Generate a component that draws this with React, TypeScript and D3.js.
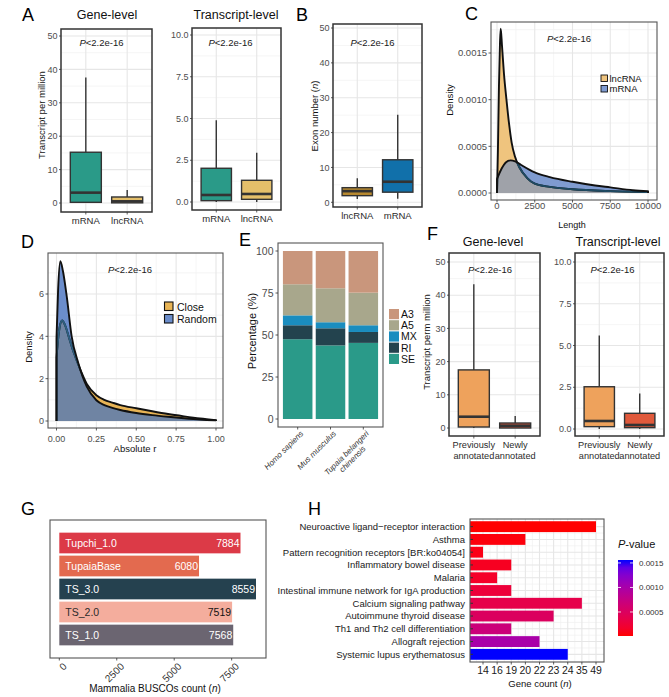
import React from "react";
import * as d3 from "d3";

const FONT = "'Liberation Sans', Arial, Helvetica, sans-serif";
const MAJOR = "#E6E6E6";
const MINOR = "#F1F1F1";
const DARK = "#333333";
const TICKTXT = "#4D4D4D";

type Stat = { min: number; q1: number; med: number; q3: number; max: number };

// ---------------- Panel A ----------------
const catsA = ["mRNA", "lncRNA"];
const geneLevelA: Stat[] = [
  { min: 0, q1: 0.2, med: 3.1, q3: 15.2, max: 37.6 },
  { min: 0, q1: 0.05, med: 0.5, q3: 1.8, max: 3.9 },
];
const transcriptLevelA: Stat[] = [
  { min: 0, q1: 0.08, med: 0.42, q3: 2.02, max: 4.9 },
  { min: 0, q1: 0.16, med: 0.48, q3: 1.3, max: 2.95 },
];
const fillsA = ["#2A9A88", "#E4BF6A"];
const ticks50 = [0, 10, 20, 30, 40, 50];
const minor50 = [5, 15, 25, 35, 45];
const ticks10 = [0, 2.5, 5, 7.5, 10];
const minor10 = [1.25, 3.75, 6.25, 8.75];

// ---------------- Panel B ----------------
const catsB = ["lncRNA", "mRNA"];
const exonB: Stat[] = [
  { min: 0.95, q1: 1.9, med: 3.2, q3: 4.2, max: 6.9 },
  { min: 1, q1: 2.9, med: 5.9, q3: 12.2, max: 25.1 },
];
const fillsB = ["#B8892F", "#1170AA"];

// ---------------- Panel C ----------------
const lncLengthC = [0, 60, 130, 200, 245, 330, 460, 640, 800, 970, 1190, 1500, 2000, 2500, 3500, 5000, 7500, 10000];
const lncDensityC = [0, 0.00045, 0.00115, 0.00162, 0.00176, 0.00158, 0.00128, 0.00098, 0.00074, 0.00054, 0.00039, 0.00027, 0.00016, 0.0001, 0.000065, 0.00004, 0.00002, 0.00001];
const mrnaLengthC = [0, 300, 600, 900, 1200, 1600, 2500, 3500, 5000, 6500, 7500, 9000, 10000];
const mrnaDensityC = [0.00015, 0.00026, 0.00033, 0.00035, 0.00034, 0.0003, 0.00022, 0.00017, 0.00012, 0.00008, 0.00006, 0.00003, 0.00002];
const xTicksC = [0, 2500, 5000, 7500, 10000];
const xMinorC = [1250, 3750, 6250, 8750];
const yTicksC = [0, 0.0005, 0.001, 0.0015];
const yMinorC = [0.00025, 0.00075, 0.00125, 0.00175];

// ---------------- Panel D ----------------
const closeRD = [0, 0.015, 0.035, 0.055, 0.08, 0.11, 0.14, 0.19, 0.25, 0.3, 0.35, 0.4, 0.5, 0.6, 0.7, 0.8, 0.9, 1.0];
const closeDensD = [3.0, 4.2, 4.75, 4.5, 3.9, 3.2, 2.6, 1.75, 1.22, 1.0, 0.87, 0.75, 0.6, 0.46, 0.33, 0.22, 0.12, 0.04];
const randomRD = [0, 0.01, 0.024, 0.04, 0.064, 0.095, 0.137, 0.19, 0.25, 0.3, 0.35, 0.4, 0.5, 0.6, 0.7, 0.8, 0.9, 1.0];
const randomDensD = [3.9, 6.2, 7.55, 7.1, 5.9, 4.0, 2.73, 1.62, 0.98, 0.75, 0.62, 0.52, 0.38, 0.28, 0.2, 0.13, 0.07, 0.03];
const xTicksD = [0, 0.25, 0.5, 0.75, 1];
const xMinorD = [0.125, 0.375, 0.625, 0.875];
const yTicksD = [0, 2, 4, 6];
const yMinorD = [1, 3, 5, 7];

// ---------------- Panel E ----------------
const speciesE = ["Homo sapiens", "Mus musculus", "Tupaia belangeri chinensis"];
const speciesLinesE = [["Homo sapiens"], ["Mus musculus"], ["Tupaia belangeri", "chinensis"]];
const splicingKeysE = ["SE", "RI", "MX", "A5", "A3"];
const seE = [47.5, 43.8, 45.3];
const riE = [8.3, 10.2, 6.5];
const mxE = [5.9, 3.6, 4.0];
const a5E = [18.5, 20.2, 19.4];
const a3E = [19.8, 22.2, 24.8];
const colorsE: Record<string, string> = { SE: "#2A9A89", RI: "#23434E", MX: "#1A8DBF", A5: "#A8A78C", A3: "#C9967C" };
const ticksE = [0, 25, 50, 75, 100];

// ---------------- Panel F ----------------
const catsF = ["Previously annotated", "Newly annotated"];
const labelsF = [["Previously", "annotated"], ["Newly", "annotated"]];
const geneLevelF: Stat[] = [
  { min: 0, q1: 0.3, med: 3.4, q3: 17.5, max: 43.3 },
  { min: 0, q1: 0.0, med: 0.7, q3: 1.5, max: 3.6 },
];
const transcriptLevelF: Stat[] = [
  { min: 0, q1: 0.14, med: 0.48, q3: 2.53, max: 5.6 },
  { min: 0, q1: 0.08, med: 0.24, q3: 0.94, max: 2.12 },
];
const fillsF = ["#EEA25C", "#E0593B"];

// ---------------- Panel G ----------------
const assembliesG = ["Tupchi_1.0", "TupaiaBase", "TS_3.0", "TS_2.0", "TS_1.0"];
const buscoG = [7884, 6080, 8559, 7519, 7568];
const colorsG = ["#DC3A47", "#E36A4F", "#25414F", "#F4AD9D", "#6B6571"];
const textColorsG = ["#FFFFFF", "#FFFFFF", "#FFFFFF", "#2B2B2B", "#FFFFFF"];
const ticksG = [0, 2500, 5000, 7500];

// ---------------- Panel H ----------------
const pathwaysH = [
  "Neuroactive ligand\u2212receptor interaction",
  "Asthma",
  "Pattern recognition receptors [BR:ko04054]",
  "Inflammatory bowel disease",
  "Malaria",
  "Intestinal immune network for IgA production",
  "Calcium signaling pathway",
  "Autoimmune thyroid disease",
  "Th1 and Th2 cell differentiation",
  "Allograft rejection",
  "Systemic lupus erythematosus",
];
const geneCountH = [49, 20, 14, 19, 16, 19, 35, 23, 19, 22, 24];
const pValueH = [0.00001, 0.00004, 0.00007, 0.00012, 0.00016, 0.00026, 0.00036, 0.0005, 0.00068, 0.001, 0.00156];
const countTicksH = ["14", "16", "19", "20", "22", "23", "24", "35", "49"];
const pTicksH = [0.0005, 0.001, 0.0015];

// ---------------- helpers ----------------
function PText({ x, y, size = 9.5 }: { x: number; y: number; size?: number }) {
  return (
    <text x={x} y={y} textAnchor="middle" fontSize={size} fill="#1a1a1a">
      <tspan fontStyle="italic">P</tspan>
      {"<2.2e-16"}
    </text>
  );
}

function VText({ x, y, size, children }: { x: number; y: number; size: number; children: React.ReactNode }) {
  return (
    <text transform={`translate(${x},${y}) rotate(-90)`} textAnchor="middle" fontSize={size} fill="#111">
      {children}
    </text>
  );
}

interface BoxProps {
  left: number; top: number; right: number; bottom: number;
  yDomain: [number, number]; yRange: [number, number];
  ticks: number[]; minor: number[]; fmt: (v: number) => string;
  cats: string[]; labels: string[][]; stats: Stat[]; fills: string[];
  pX: number; pY: number; labelSize?: number;
}

function BoxPanel(p: BoxProps) {
  const y = d3.scaleLinear().domain(p.yDomain).range(p.yRange);
  const x = d3.scalePoint<string>().domain(p.cats).range([p.left, p.right]).padding(0.6);
  const bw = x.step() * 0.75;
  const ls = p.labelSize ?? 9.5;
  return (
    <g>
      {p.minor.map((v) => (
        <line key={"mi" + v} x1={p.left} x2={p.right} y1={y(v)} y2={y(v)} stroke={MINOR} strokeWidth={0.7} />
      ))}
      {p.ticks.map((v) => (
        <line key={"ma" + v} x1={p.left} x2={p.right} y1={y(v)} y2={y(v)} stroke={MAJOR} strokeWidth={1.1} />
      ))}
      {p.cats.map((c) => (
        <line key={"vx" + c} x1={x(c)} x2={x(c)} y1={p.top} y2={p.bottom} stroke={MAJOR} strokeWidth={1.1} />
      ))}
      {p.stats.map((s, i) => {
        const cx = x(p.cats[i]) as number;
        return (
          <g key={"b" + i}>
            <line x1={cx} x2={cx} y1={y(s.max)} y2={y(s.q3)} stroke={DARK} strokeWidth={1.4} />
            <line x1={cx} x2={cx} y1={y(s.q1)} y2={y(s.min)} stroke={DARK} strokeWidth={1.4} />
            <rect x={cx - bw / 2} y={y(s.q3)} width={bw} height={Math.max(0.5, y(s.q1) - y(s.q3))} fill={p.fills[i]} stroke={DARK} strokeWidth={1.4} />
            <line x1={cx - bw / 2} x2={cx + bw / 2} y1={y(s.med)} y2={y(s.med)} stroke={DARK} strokeWidth={2.6} />
          </g>
        );
      })}
      <rect x={p.left} y={p.top} width={p.right - p.left} height={p.bottom - p.top} fill="none" stroke={DARK} strokeWidth={1.5} />
      {p.ticks.map((v) => (
        <g key={"yt" + v}>
          <line x1={p.left - 2} x2={p.left} y1={y(v)} y2={y(v)} stroke={DARK} strokeWidth={0.8} />
          <text x={p.left - 3.5} y={y(v) + 3.2} textAnchor="end" fontSize={9} fill={TICKTXT}>
            {p.fmt(v)}
          </text>
        </g>
      ))}
      {p.cats.map((c, i) => (
        <g key={"xt" + c}>
          <line x1={x(c)} x2={x(c)} y1={p.bottom} y2={p.bottom + 2.5} stroke={DARK} strokeWidth={0.8} />
          {p.labels[i].map((l, k) => (
            <text key={k} x={x(c)} y={p.bottom + 11.5 + k * 11} textAnchor="middle" fontSize={ls} fill="#2b2b2b">
              {l}
            </text>
          ))}
        </g>
      ))}
      <PText x={p.pX} y={p.pY} />
    </g>
  );
}

interface DensProps {
  id: string;
  left: number; top: number; right: number; bottom: number;
  xDomain: [number, number]; xRange: [number, number];
  yDomain: [number, number]; yRange: [number, number];
  xTicks: number[]; xMinor: number[]; yTicks: number[]; yMinor: number[];
  xFmt: (v: number) => string; yFmt: (v: number) => string;
  x1: number[]; y1: number[]; x2: number[]; y2: number[];
  c1: string; c2: string; cOver: string; cInnerLine: string;
  tickSize: number; xLabelDy: number;
}

function DensityPanel(p: DensProps) {
  const X = d3.scaleLinear().domain(p.xDomain).range(p.xRange);
  const Y = d3.scaleLinear().domain(p.yDomain).range(p.yRange);
  const pts1 = p.x1.map((v, i) => [v, p.y1[i]] as [number, number]);
  const pts2 = p.x2.map((v, i) => [v, p.y2[i]] as [number, number]);
  const area = d3
    .area<[number, number]>()
    .x((d) => X(d[0]))
    .y0(Y(0))
    .y1((d) => Y(d[1]))
    .curve(d3.curveMonotoneX);
  const line = d3
    .line<[number, number]>()
    .x((d) => X(d[0]))
    .y((d) => Y(d[1]))
    .curve(d3.curveMonotoneX);
  const outline = (pts: [number, number][]) =>
    `M${X(pts[0][0])},${Y(0)}` + (line(pts) as string).replace(/^M/, "L") + `L${X(pts[pts.length - 1][0])},${Y(0)}`;
  const a1 = area(pts1) as string;
  const a2 = area(pts2) as string;
  return (
    <g>
      <defs>
        <clipPath id={p.id + "clip2"}>
          <path d={a2} />
        </clipPath>
      </defs>
      {p.yMinor.map((v) => (
        <line key={"ym" + v} x1={p.left} x2={p.right} y1={Y(v)} y2={Y(v)} stroke={MINOR} strokeWidth={0.7} />
      ))}
      {p.xMinor.map((v) => (
        <line key={"xm" + v} x1={X(v)} x2={X(v)} y1={p.top} y2={p.bottom} stroke={MINOR} strokeWidth={0.7} />
      ))}
      {p.yTicks.map((v) => (
        <line key={"yM" + v} x1={p.left} x2={p.right} y1={Y(v)} y2={Y(v)} stroke={MAJOR} strokeWidth={1.1} />
      ))}
      {p.xTicks.map((v) => (
        <line key={"xM" + v} x1={X(v)} x2={X(v)} y1={p.top} y2={p.bottom} stroke={MAJOR} strokeWidth={1.1} />
      ))}
      <path d={a1} fill={p.c1} />
      <path d={a2} fill={p.c2} />
      <path d={a1} fill={p.cOver} clipPath={`url(#${p.id}clip2)`} />
      <path d={outline(pts1)} fill="none" stroke="#111" strokeWidth={1.9} strokeLinejoin="round" />
      <path d={outline(pts1)} fill="none" stroke={p.cInnerLine} strokeWidth={1.9} strokeLinejoin="round" clipPath={`url(#${p.id}clip2)`} />
      <path d={outline(pts2)} fill="none" stroke="#111" strokeWidth={1.9} strokeLinejoin="round" />
      <rect x={p.left} y={p.top} width={p.right - p.left} height={p.bottom - p.top} fill="none" stroke="#555" strokeWidth={1.1} />
      {p.yTicks.map((v) => (
        <g key={"yt" + v}>
          <line x1={p.left - 2.5} x2={p.left} y1={Y(v)} y2={Y(v)} stroke={DARK} strokeWidth={0.8} />
          <text x={p.left - 4} y={Y(v) + 3.3} textAnchor="end" fontSize={p.tickSize} fill={TICKTXT}>
            {p.yFmt(v)}
          </text>
        </g>
      ))}
      {p.xTicks.map((v) => (
        <g key={"xt" + v}>
          <line x1={X(v)} x2={X(v)} y1={p.bottom} y2={p.bottom + 2.5} stroke={DARK} strokeWidth={0.8} />
          <text x={X(v)} y={p.bottom + p.xLabelDy} textAnchor="middle" fontSize={p.tickSize} fill={TICKTXT}>
            {p.xFmt(v)}
          </text>
        </g>
      ))}
    </g>
  );
}

function PanelE() {
  const left = 278, top = 243, right = 383, bottom = 427;
  const x = d3.scalePoint<string>().domain(speciesE).range([left, right]).padding(0.6);
  const bw = x.step() * 0.9;
  const y = d3.scaleLinear().domain([0, 100]).range([419, 251]);
  const rows = speciesE.map((s, i) => ({ species: s, SE: seE[i], RI: riE[i], MX: mxE[i], A5: a5E[i], A3: a3E[i] }));
  const stack = d3.stack<any>().keys(splicingKeysE)(rows);
  const legendOrder = [...splicingKeysE].reverse();
  return (
    <g>
      {stack.map((layer) =>
        layer.map((seg, i) => (
          <rect
            key={layer.key + i}
            x={(x(speciesE[i]) as number) - bw / 2}
            y={y(seg[1])}
            width={bw}
            height={y(seg[0]) - y(seg[1])}
            fill={colorsE[layer.key]}
          />
        ))
      )}
      <rect x={left} y={top} width={right - left} height={bottom - top} fill="none" stroke="#555" strokeWidth={1.1} />
      {ticksE.map((v) => (
        <g key={"et" + v}>
          <line x1={left - 2.5} x2={left} y1={y(v)} y2={y(v)} stroke={DARK} strokeWidth={0.8} />
          <text x={left - 4.5} y={y(v) + 3.6} textAnchor="end" fontSize={10.5} fill={TICKTXT}>
            {v}
          </text>
        </g>
      ))}
      {speciesE.map((s, i) => {
        const cx = x(s) as number;
        const lines = speciesLinesE[i];
        return (
          <g key={"ex" + i}>
            <line x1={cx} x2={cx} y1={bottom} y2={bottom + 2.5} stroke={DARK} strokeWidth={0.8} />
            <g transform={`translate(${cx + 2},${bottom + 3}) rotate(-45)`}>
              <text x={0} y={0} dy="0.72em" textAnchor="end" fontSize={8} fontStyle="italic" fill="#333">
                {lines[0]}
              </text>
              {lines.length > 1 && (
                <text x={-13} y={8.5} dy="0.72em" textAnchor="end" fontSize={8} fontStyle="italic" fill="#333">
                  {lines[1]}
                </text>
              )}
            </g>
          </g>
        );
      })}
      <VText x={256} y={331} size={11}>
        Percentage (%)
      </VText>
      {legendOrder.map((k, i) => (
        <g key={"el" + k}>
          <rect x={389} y={309 + i * 11.2} width={10} height={10.2} fill={colorsE[k]} />
          <text x={401} y={318 + i * 11.2} fontSize={10.5} fill="#111">
            {k}
          </text>
        </g>
      ))}
    </g>
  );
}

function PanelG() {
  const left = 50, top = 520, right = 266, bottom = 658;
  const y = d3.scaleBand<string>().domain(assembliesG).range([top, bottom]).paddingInner(0.1).paddingOuter(0.55);
  const x = d3.scaleLinear().domain([0, 8559]).range([59.3, 256]);
  return (
    <g>
      {assembliesG.map((a, i) => {
        const yy = y(a) as number;
        const h = y.bandwidth();
        return (
          <g key={a}>
            <rect x={x(0)} y={yy} width={x(buscoG[i]) - x(0)} height={h} fill={colorsG[i]} />
            <text x={x(0) + 6} y={yy + h / 2 + 3.6} fontSize={10.5} fill={textColorsG[i]}>
              {a}
            </text>
            <text x={x(buscoG[i]) - 1} y={yy + h / 2 + 3.6} textAnchor="end" fontSize={10.5} fill={textColorsG[i] === "#FFFFFF" ? "#FFFFFF" : "#111"}>
              {buscoG[i]}
            </text>
          </g>
        );
      })}
      <rect x={left} y={top} width={right - left} height={bottom - top} fill="none" stroke="#555" strokeWidth={1.1} />
      {ticksG.map((v) => (
        <g key={"gt" + v}>
          <line x1={x(v)} x2={x(v)} y1={bottom} y2={bottom + 2.5} stroke={DARK} strokeWidth={0.8} />
          <text transform={`translate(${x(v) + 3},${bottom + 4}) rotate(-45)`} dy="0.72em" textAnchor="end" fontSize={10} fill="#333">
            {v}
          </text>
        </g>
      ))}
      <text x={155} y={691.5} textAnchor="middle" fontSize={10} fill="#111">
        Mammalia BUSCOs count (<tspan fontStyle="italic">n</tspan>)
      </text>
    </g>
  );
}

function PanelH() {
  const left = 470, top = 519, right = 604, bottom = 662;
  const y = d3.scalePoint<string>().domain(pathwaysH).range([top, bottom]).padding(0.6);
  const bh = y.step() * 0.85;
  const x = d3.scalePoint<string>().domain(countTicksH).range([483, 596]);
  const pMin = 0.00001, pMax = 0.00156;
  const color = d3.scaleLinear<string>().domain([pMin, pMax]).range(["#FF0000", "#0000FF"]).interpolate(d3.interpolateLab);
  const cb = d3.scaleLinear().domain([pMin, pMax]).range([636, 560]);
  const stops = d3.range(0, 11).map((i) => i / 10);
  const xMinor = [left + 6.5, ...countTicksH.slice(0, -1).map((t, i) => ((x(t) as number) + (x(countTicksH[i + 1]) as number)) / 2)];
  const yMinor = pathwaysH.slice(0, -1).map((t, i) => ((y(t) as number) + (y(pathwaysH[i + 1]) as number)) / 2);
  return (
    <g>
      <defs>
        <linearGradient id="pvGrad" x1="0" y1="1" x2="0" y2="0">
          {stops.map((t) => (
            <stop key={t} offset={t} stopColor={color(pMin + t * (pMax - pMin))} />
          ))}
        </linearGradient>
      </defs>
      {xMinor.map((v, i) => (
        <line key={"hxm" + i} x1={v} x2={v} y1={top} y2={bottom} stroke={MINOR} strokeWidth={0.7} />
      ))}
      {yMinor.map((v, i) => (
        <line key={"hym" + i} x1={left} x2={right} y1={v} y2={v} stroke={MINOR} strokeWidth={0.7} />
      ))}
      {countTicksH.map((t) => (
        <line key={"hx" + t} x1={x(t)} x2={x(t)} y1={top} y2={bottom} stroke={MAJOR} strokeWidth={1.1} />
      ))}
      {pathwaysH.map((t) => (
        <line key={"hy" + t} x1={left} x2={right} y1={y(t)} y2={y(t)} stroke={MAJOR} strokeWidth={1.1} />
      ))}
      {pathwaysH.map((t, i) => {
        const cy = y(t) as number;
        return (
          <g key={"hb" + i}>
            <rect x={left} y={cy - bh / 2} width={(x(String(geneCountH[i])) as number) - left} height={bh} fill={color(pValueH[i])} />
            <line x1={left} x2={left + 3} y1={cy} y2={cy} stroke={DARK} strokeWidth={1} />
            <text x={left - 5} y={cy + 3.4} textAnchor="end" fontSize={9.5} fill="#1a1a1a">
              {t}
            </text>
          </g>
        );
      })}
      <rect x={left} y={top} width={right - left} height={bottom - top} fill="none" stroke="#555" strokeWidth={1.1} />
      {countTicksH.map((t) => (
        <g key={"hxt" + t}>
          <line x1={x(t)} x2={x(t)} y1={bottom} y2={bottom + 2.5} stroke={DARK} strokeWidth={0.8} />
          <text x={x(t)} y={bottom + 12} textAnchor="middle" fontSize={10.5} fill="#1a1a1a">
            {t}
          </text>
        </g>
      ))}
      <text x={540} y={687} textAnchor="middle" fontSize={9.5} fill="#111">
        Gene count (<tspan fontStyle="italic">n</tspan>)
      </text>
      <text x={618} y={548} fontSize={11} fill="#111">
        <tspan fontStyle="italic">P</tspan>-value
      </text>
      <rect x={618} y={560} width={15} height={76} fill="url(#pvGrad)" />
      {pTicksH.map((v) => (
        <g key={"cb" + v}>
          <line x1={618} x2={621} y1={cb(v)} y2={cb(v)} stroke="#fff" strokeWidth={0.8} />
          <line x1={630} x2={633} y1={cb(v)} y2={cb(v)} stroke="#fff" strokeWidth={0.8} />
          <text x={639} y={cb(v) + 3} fontSize={8} fill="#333">
            {v.toFixed(4)}
          </text>
        </g>
      ))}
    </g>
  );
}

export default function App() {
  const f1 = (v: number) => String(v);
  const f1d = (v: number) => v.toFixed(1);
  return (
    <svg
      width={669}
      height={697}
      viewBox="0 0 669 697"
      style={{ position: "absolute", left: 0, top: 0, background: "#fff" }}
      fontFamily={FONT}
    >
      <rect width={669} height={697} fill="#fff" />
      {/* Panel letters */}
      {[
        ["A", 22, 21],
        ["B", 296, 21],
        ["C", 465, 20],
        ["D", 21, 248],
        ["E", 239, 246],
        ["F", 427, 240],
        ["G", 21, 515],
        ["H", 308, 515],
      ].map(([l, x, y]) => (
        <text key={l as string} x={x as number} y={y as number} fontSize={18} fill="#000">
          {l}
        </text>
      ))}

      {/* Panel A */}
      <text x={107} y={19} textAnchor="middle" fontSize={12.5} fill="#111">Gene-level</text>
      <text x={236} y={19} textAnchor="middle" fontSize={12.5} fill="#111">Transcript-level</text>
      <VText x={45} y={115} size={9.5}>Transcript per million</VText>
      <BoxPanel
        left={61} top={29} right={152} bottom={212}
        yDomain={[0, 50]} yRange={[203, 36]} ticks={ticks50} minor={minor50} fmt={f1}
        cats={catsA} labels={catsA.map((c) => [c])} stats={geneLevelA} fills={fillsA}
        pX={101.5} pY={45.5}
      />
      <BoxPanel
        left={192} top={28} right={281} bottom={210}
        yDomain={[0, 10]} yRange={[202, 35]} ticks={ticks10} minor={minor10} fmt={f1d}
        cats={catsA} labels={catsA.map((c) => [c])} stats={transcriptLevelA} fills={fillsA}
        pX={230.5} pY={45.5}
      />

      {/* Panel B */}
      <VText x={318} y={116} size={9.5}>
        Exon number (<tspan fontStyle="italic">n</tspan>)
      </VText>
      <BoxPanel
        left={333} top={24} right={422} bottom={207}
        yDomain={[0, 50]} yRange={[202.3, 28]} ticks={ticks50} minor={minor50} fmt={f1}
        cats={catsB} labels={catsB.map((c) => [c])} stats={exonB} fills={fillsB}
        pX={372.5} pY={45.5}
      />

      {/* Panel C */}
      <DensityPanel
        id="C"
        left={491} top={22} right={657} bottom={200}
        xDomain={[0, 10000]} xRange={[497, 648]} yDomain={[0, 0.0015]} yRange={[193, 53]}
        xTicks={xTicksC} xMinor={xMinorC} yTicks={yTicksC} yMinor={yMinorC}
        xFmt={(v) => String(v)} yFmt={(v) => v.toFixed(4)}
        x1={lncLengthC} y1={lncDensityC} x2={mrnaLengthC} y2={mrnaDensityC}
        c1="#EFC47E" c2="#7F9BD0" cOver="#9FA2A9" cInnerLine="#1E4A62"
        tickSize={9.5} xLabelDy={8.8}
      />
      <PText x={569} y={41.5} />
      <VText x={453} y={100} size={9.5}>Density</VText>
      <text x={572} y={228} textAnchor="middle" fontSize={9} fill="#111">Length</text>
      <rect x={601} y={75} width={6.5} height={6.5} fill="#EFC47E" stroke="#111" strokeWidth={0.9} />
      <rect x={601} y={85.5} width={6.5} height={6.5} fill="#7F9BD0" stroke="#111" strokeWidth={0.9} />
      <text x={609.5} y={81.5} fontSize={9.5} fill="#111">lncRNA</text>
      <text x={609.5} y={92} fontSize={9.5} fill="#111">mRNA</text>

      {/* Panel D */}
      <DensityPanel
        id="D"
        left={48} top={253} right={223} bottom={428}
        xDomain={[0, 1]} xRange={[56.5, 216]} yDomain={[0, 6]} yRange={[421, 294]}
        xTicks={xTicksD} xMinor={xMinorD} yTicks={yTicksD} yMinor={yMinorD}
        xFmt={(v) => v.toFixed(2)} yFmt={(v) => String(v)}
        x1={closeRD} y1={closeDensD} x2={randomRD} y2={randomDensD}
        c1="#E8B455" c2="#6B8DCB" cOver="#6F84A3" cInnerLine="#2D5F80"
        tickSize={9} xLabelDy={14}
      />
      <PText x={130} y={273} />
      <VText x={32} y={347} size={9.5}>Density</VText>
      <text x={135} y={452} textAnchor="middle" fontSize={9.5} fill="#111">Absolute r</text>
      <rect x={164.5} y={302} width={8.5} height={8.5} fill="#E8B455" stroke="#111" strokeWidth={1.1} />
      <rect x={164.5} y={314.5} width={8.5} height={8.5} fill="#6B8DCB" stroke="#111" strokeWidth={1.1} />
      <text x={177} y={310.5} fontSize={10.5} fill="#111">Close</text>
      <text x={177} y={323} fontSize={10.5} fill="#111">Random</text>

      {/* Panel E */}
      <PanelE />

      {/* Panel F */}
      <text x={493} y={246} textAnchor="middle" fontSize={12.5} fill="#111">Gene-level</text>
      <text x={618} y={246} textAnchor="middle" fontSize={12.5} fill="#111">Transcript-level</text>
      <VText x={430} y={342} size={9.5}>Transcript perm million</VText>
      <BoxPanel
        left={449} top={253} right={540} bottom={436}
        yDomain={[0, 50]} yRange={[428, 262]} ticks={ticks50} minor={minor50} fmt={f1}
        cats={catsF} labels={labelsF} stats={geneLevelF} fills={fillsF}
        pX={490} pY={273} labelSize={9.2}
      />
      <BoxPanel
        left={575} top={253} right={664} bottom={436}
        yDomain={[0, 10]} yRange={[429, 262]} ticks={ticks10} minor={minor10} fmt={f1d}
        cats={catsF} labels={labelsF} stats={transcriptLevelF} fills={fillsF}
        pX={612.5} pY={273} labelSize={9.2}
      />

      {/* Panel G */}
      <PanelG />

      {/* Panel H */}
      <PanelH />
    </svg>
  );
}
